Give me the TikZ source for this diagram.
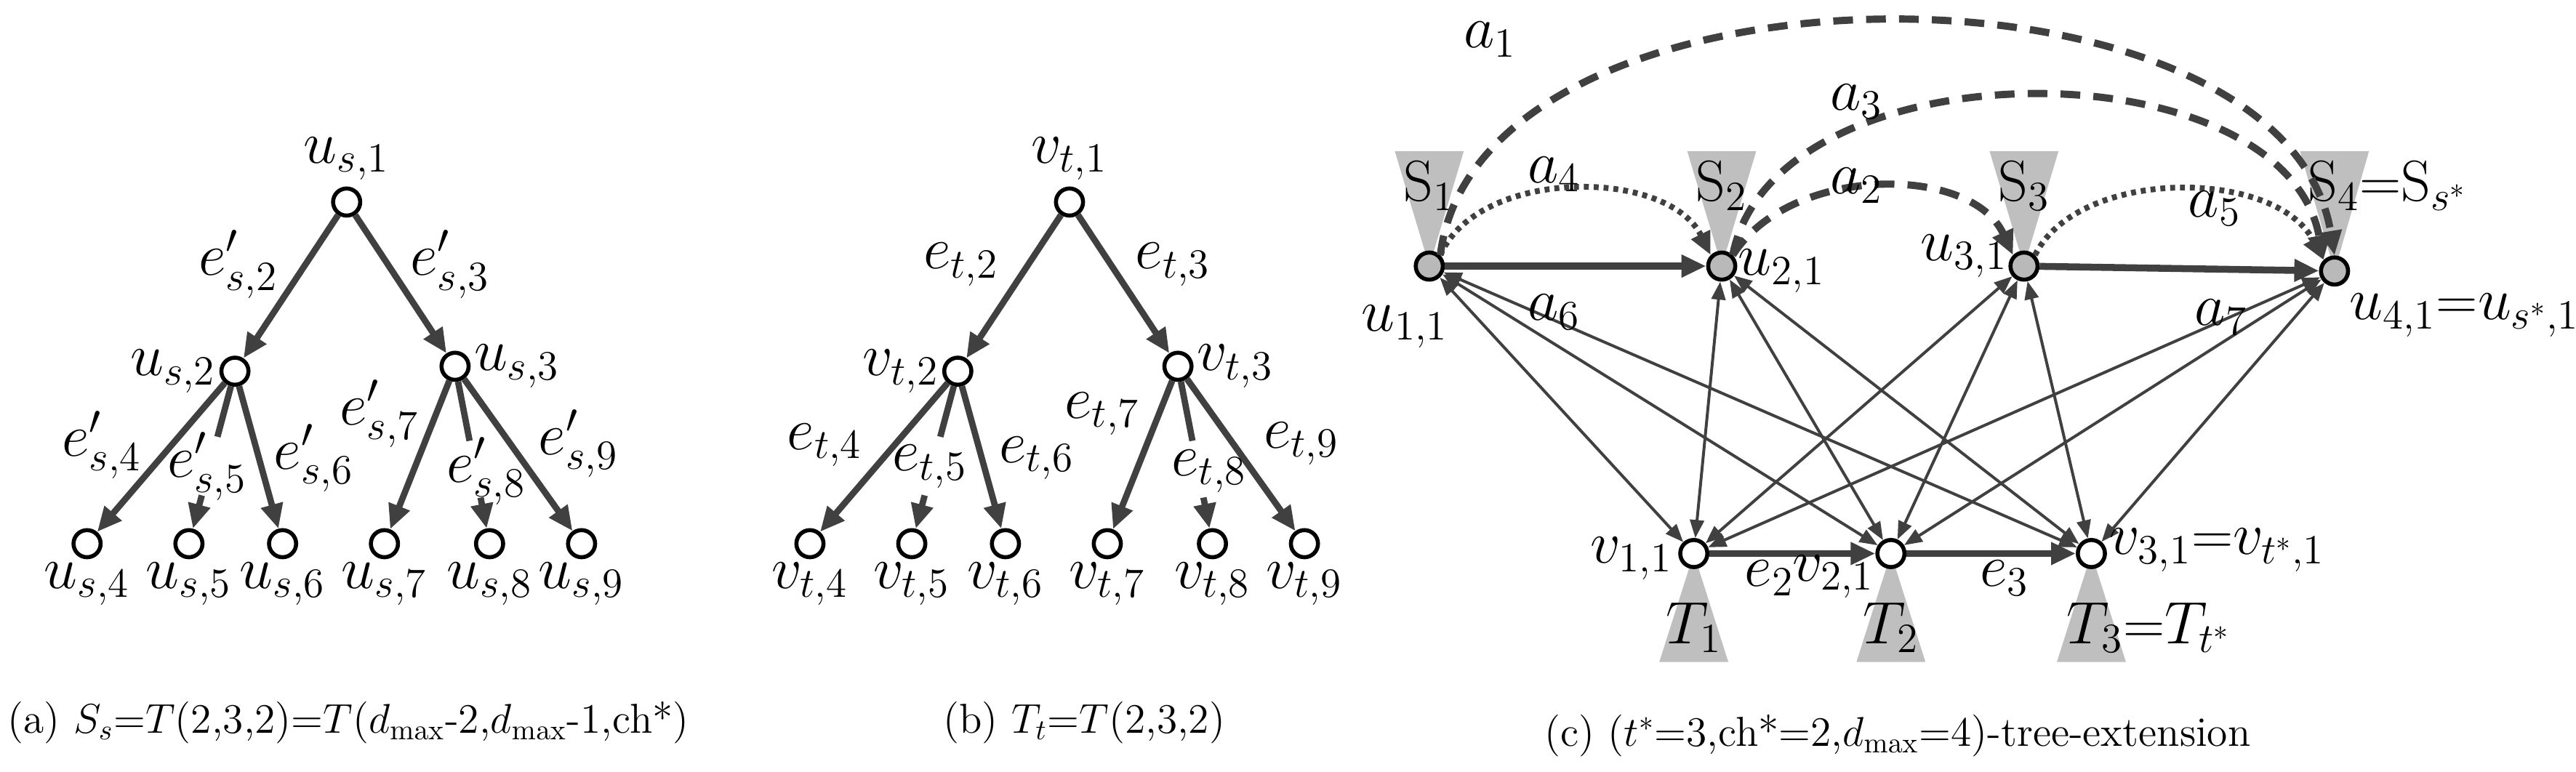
\documentclass[tikz,border=0pt]{standalone}
\usetikzlibrary{arrows.meta,calc}
\begin{document}
\begin{tikzpicture}[x=0.2mm,y=-0.2mm,
  nd/.style={circle,draw=black,line width=1.4pt,fill=white,minimum size=3.3mm,inner sep=0pt},
  gnd/.style={nd,fill=gray!55},
  lbl/.style={font=\fontsize{20}{24}\selectfont,inner sep=1pt},
  captxt/.style={font=\fontsize{14.5}{17}\selectfont},
  tedge/.style={draw=black!75,line width=2.2pt,-{Triangle[length=3mm,width=2.6mm]}},
  tline/.style={draw=black!75,line width=2.2pt},
  thinarr/.style={draw=black!75,line width=1pt,{Triangle[length=2.2mm,width=1.7mm]}-{Triangle[length=2.2mm,width=1.7mm]}},
  thickarr/.style={draw=black!75,line width=2.4pt,-{Triangle[length=3mm,width=2.6mm]}},
  dsh/.style={draw=black!75,line width=2.5pt,dash pattern=on 2.4mm off 1.6mm,-{Triangle[length=3mm,width=2.6mm]}},
  dtt/.style={draw=black!75,line width=2pt,dash pattern=on 0.6mm off 0.6mm,-{Triangle[length=2.8mm,width=2.4mm]}},
  tri/.style={fill=black!25,draw=none}]
\useasboundingbox (0,0) rectangle (1568,470);
\foreach \pre/\lab/\dx/\sub/\e in {a/u/0/s/e',b/v/440/t/e}{
\begin{scope}[xshift=\dx*0.2mm]
\node[nd] (\pre1) at (211,123) {};
\node[nd] (\pre2) at (143,226) {};
\node[nd] (\pre3) at (277,223) {};
\node[nd] (\pre4) at (53,331) {};
\node[nd] (\pre5) at (115,331) {};
\node[nd] (\pre6) at (172,331) {};
\node[nd] (\pre7) at (234,331) {};
\node[nd] (\pre8) at (298,331) {};
\node[nd] (\pre9) at (354,331) {};
\node[lbl,above=1pt] (\pre l1) at (\pre1.north) {$\lab_{\sub,1}$};
\node[lbl,left=0pt] (\pre l2) at (\pre2.west) {$\lab_{\sub,2}$};
\node[lbl,right=0pt] (\pre l3) at (\pre3.east) {$\lab_{\sub,3}$};
\foreach \i in {4,...,9}{\node[lbl,below=0pt] (\pre l\i) at (\pre\i.south) {$\lab_{\sub,\i}$};}
\draw[tedge] (\pre1) -- (\pre2);
\draw[tedge] (\pre1) -- (\pre3);
\draw[tedge] (\pre2) -- (\pre4);
\draw[tedge] (\pre2) -- (\pre6);
\draw[tedge] (\pre3) -- (\pre7);
\draw[tedge] (\pre3) -- (\pre9);
\draw[tline] (\pre2) -- ($(\pre2)!0.38!(\pre5)$);
\draw[tedge] ($(\pre2)!0.72!(\pre5)$) -- (\pre5);
\draw[tline] (\pre3) -- ($(\pre3)!0.42!(\pre8)$);
\draw[tedge] ($(\pre3)!0.74!(\pre8)$) -- (\pre8);
\node[lbl] (\pre e2) at (145,161) {$\e_{\sub,2}$};
\node[lbl] (\pre e3) at (274,161) {$\e_{\sub,3}$};
\node[lbl] (\pre e4) at (62,271) {$\e_{\sub,4}$};
\node[lbl] (\pre e5) at (126,284) {$\e_{\sub,5}$};
\node[lbl] (\pre e6) at (191,279) {$\e_{\sub,6}$};
\node[lbl] (\pre e7) at (231,252) {$\e_{\sub,7}$};
\node[lbl] (\pre e8) at (296,287) {$\e_{\sub,8}$};
\node[lbl] (\pre e9) at (352,270) {$\e_{\sub,9}$};
\end{scope}}
\node[captxt] (capa) at (212,440) {(a) $S_s$=$T$(2,3,2)=$T$($d_{\mathrm{max}}$-2,$d_{\mathrm{max}}$-1,ch*)};
\node[captxt] (capb) at (660,440) {(b) $T_t$=$T$(2,3,2)};
\fill[tri] (849,92) -- (891,92) -- (870,162) -- cycle;
\fill[tri] (1027,92) -- (1069,92) -- (1048,162) -- cycle;
\fill[tri] (1211,92) -- (1253,92) -- (1232,162) -- cycle;
\fill[tri] (1400,92) -- (1442,92) -- (1421,165) -- cycle;
\fill[tri] (1010,403) -- (1052,403) -- (1031,337) -- cycle;
\fill[tri] (1130,403) -- (1172,403) -- (1151,337) -- cycle;
\fill[tri] (1252,403) -- (1294,403) -- (1273,337) -- cycle;
\node[lbl] (S1) at (870,113) {S$_1$};
\node[lbl] (S2) at (1048,113) {S$_2$};
\node[lbl] (S3) at (1232,113) {S$_3$};
\node[lbl,anchor=west] (S4) at (1403,113) {S$_4$=S$_{s^*}$};
\node[lbl] (T1) at (1031,382) {$T_1$};
\node[lbl] (T2) at (1151,382) {$T_2$};
\node[lbl,anchor=west] (T3) at (1256,382) {$T_3$=$T_{t^*}$};
\node[gnd] (u1) at (870,162) {};
\node[gnd] (u2) at (1048,162) {};
\node[gnd] (u3) at (1232,162) {};
\node[gnd] (u4) at (1421,165) {};
\node[nd] (v1) at (1031,337) {};
\node[nd] (v2) at (1151,337) {};
\node[nd] (v3) at (1273,337) {};
\foreach \i in {1,...,4}{\foreach \j in {1,2,3}{\draw[thinarr] (u\i) -- (v\j);}}
\draw[thickarr] (u1) -- (u2);
\draw[thickarr] (u3) -- (u4);
\draw[thickarr] (v1) -- (v2);
\draw[thickarr] (v2) -- (v3);
\draw[dsh] (u1.north east) .. controls (900,-34) and (1390,-34) .. (u4.north);
\draw[dsh] (u2.north east) .. controls (1080,26) and (1390,26) .. (u4.north west);
\draw[dsh] (u2.north east) .. controls (1090,100) and (1200,100) .. (u3.north west);
\draw[dtt] (u1.north east) .. controls (900,102) and (1015,102) .. (u2.north west);
\draw[dtt] (u3.north east) .. controls (1265,102) and (1385,102) .. (u4.north west);
\node[lbl] (a1) at (907,24) {$a_1$};
\node[lbl] (a3) at (1130,62) {$a_3$};
\node[lbl] (a4) at (946,106) {$a_4$};
\node[lbl] (a2) at (1130,113) {$a_2$};
\node[lbl] (a5) at (1348,127) {$a_5$};
\node[lbl] (a6) at (946,190) {$a_6$};
\node[lbl] (a7) at (1352,193) {$a_7$};
\node[lbl] (lu1) at (855,199) {$u_{1,1}$};
\node[lbl,anchor=west] (lu2) at (1056,165) {$u_{2,1}$};
\node[lbl,anchor=east] (lu3) at (1224,156) {$u_{3,1}$};
\node[lbl,anchor=west] (lu4) at (1428,192) {$u_{4,1}$=$u_{s^*,1}$};
\node[lbl,anchor=east] (lv1) at (1020,340) {$v_{1,1}$};
\node[lbl] (le2) at (1077,352) {$e_2$};
\node[lbl] (lv2) at (1116,351) {$v_{2,1}$};
\node[lbl] (le3) at (1220,352) {$e_3$};
\node[lbl,anchor=west] (lv3) at (1282,335) {$v_{3,1}$=$v_{t^*,1}$};
\node[captxt] (capc) at (1155,448) {(c) ($t^*$=3,ch*=2,$d_{\mathrm{max}}$=4)-tree-extension};
\end{tikzpicture}
\end{document}
